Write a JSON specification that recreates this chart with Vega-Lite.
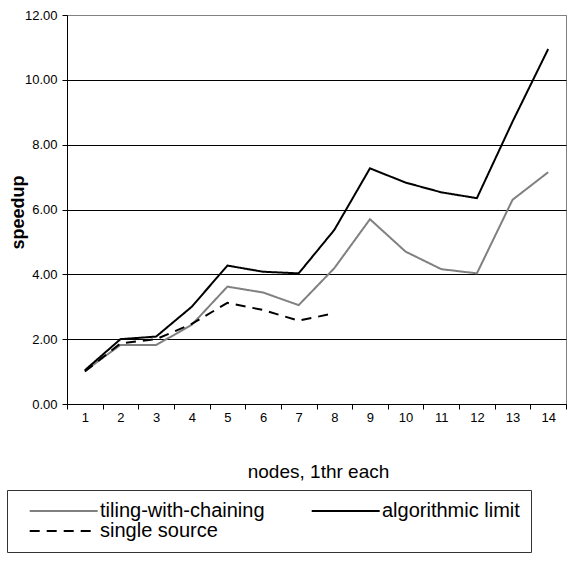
{
  "$schema": "https://vega.github.io/schema/vega-lite/v6.json",
  "width": 499,
  "height": 389,
  "autosize": {"type": "none"},
  "padding": {"left": 67, "top": 15, "right": 5, "bottom": 167},
  "background": "white",
  "config": {
    "font": "Liberation Sans",
    "view": {"stroke": "#808080", "strokeWidth": 1}
  },
  "data": {
    "values": [
      {"nodes": 1, "series": "tiling-with-chaining", "speedup": 1.02},
      {"nodes": 2, "series": "tiling-with-chaining", "speedup": 1.82},
      {"nodes": 3, "series": "tiling-with-chaining", "speedup": 1.82},
      {"nodes": 4, "series": "tiling-with-chaining", "speedup": 2.44},
      {"nodes": 5, "series": "tiling-with-chaining", "speedup": 3.62},
      {"nodes": 6, "series": "tiling-with-chaining", "speedup": 3.44},
      {"nodes": 7, "series": "tiling-with-chaining", "speedup": 3.05},
      {"nodes": 8, "series": "tiling-with-chaining", "speedup": 4.19},
      {"nodes": 9, "series": "tiling-with-chaining", "speedup": 5.70},
      {"nodes": 10, "series": "tiling-with-chaining", "speedup": 4.70},
      {"nodes": 11, "series": "tiling-with-chaining", "speedup": 4.16},
      {"nodes": 12, "series": "tiling-with-chaining", "speedup": 4.03},
      {"nodes": 13, "series": "tiling-with-chaining", "speedup": 6.30},
      {"nodes": 14, "series": "tiling-with-chaining", "speedup": 7.15},
      {"nodes": 1, "series": "algorithmic limit", "speedup": 1.04},
      {"nodes": 2, "series": "algorithmic limit", "speedup": 2.0},
      {"nodes": 3, "series": "algorithmic limit", "speedup": 2.08},
      {"nodes": 4, "series": "algorithmic limit", "speedup": 3.0},
      {"nodes": 5, "series": "algorithmic limit", "speedup": 4.27},
      {"nodes": 6, "series": "algorithmic limit", "speedup": 4.08},
      {"nodes": 7, "series": "algorithmic limit", "speedup": 4.03},
      {"nodes": 8, "series": "algorithmic limit", "speedup": 5.37},
      {"nodes": 9, "series": "algorithmic limit", "speedup": 7.27},
      {"nodes": 10, "series": "algorithmic limit", "speedup": 6.83},
      {"nodes": 11, "series": "algorithmic limit", "speedup": 6.53},
      {"nodes": 12, "series": "algorithmic limit", "speedup": 6.35},
      {"nodes": 13, "series": "algorithmic limit", "speedup": 8.71},
      {"nodes": 14, "series": "algorithmic limit", "speedup": 10.95},
      {"nodes": 1, "series": "single source", "speedup": 1.0},
      {"nodes": 2, "series": "single source", "speedup": 1.87},
      {"nodes": 3, "series": "single source", "speedup": 2.0},
      {"nodes": 4, "series": "single source", "speedup": 2.47},
      {"nodes": 5, "series": "single source", "speedup": 3.12},
      {"nodes": 6, "series": "single source", "speedup": 2.9},
      {"nodes": 7, "series": "single source", "speedup": 2.57},
      {"nodes": 8, "series": "single source", "speedup": 2.8}
    ]
  },
  "mark": {"type": "line", "strokeWidth": 2},
  "encoding": {
    "x": {
      "field": "nodes",
      "type": "ordinal",
      "scale": {"type": "band", "paddingInner": 0, "paddingOuter": 0},
      "axis": {
        "title": "nodes, 1thr each",
        "titleFontSize": 19,
        "titleFontWeight": "normal",
        "titleColor": "black",
        "titleX": 251,
        "titleY": 73,
        "titleBaseline": "alphabetic",
        "titleAlign": "center",
        "labelAngle": 0,
        "labelFontSize": 13,
        "labelColor": "black",
        "labelPadding": 2,
        "tickBand": "extent",
        "tickSize": 5,
        "tickColor": "black",
        "domainColor": "black",
        "grid": false
      }
    },
    "y": {
      "field": "speedup",
      "type": "quantitative",
      "scale": {"domain": [0, 12], "nice": false},
      "axis": {
        "title": "speedup",
        "titleFontSize": 18,
        "titleFontWeight": "bold",
        "titleColor": "black",
        "titleX": -44,
        "titleY": 197,
        "titleAngle": -90,
        "titleBaseline": "alphabetic",
        "titleAlign": "center",
        "values": [0, 2, 4, 6, 8, 10, 12],
        "format": ".2f",
        "labelFontSize": 13,
        "labelColor": "black",
        "labelPadding": 5,
        "tickSize": 5,
        "tickColor": "black",
        "domainColor": "black",
        "grid": true,
        "gridColor": {"condition": {"test": "datum.value >= 12", "value": "#808080"}, "value": "black"},
        "gridWidth": 1
      }
    },
    "color": {
      "field": "series",
      "type": "nominal",
      "scale": {
        "domain": ["tiling-with-chaining", "algorithmic limit", "single source"],
        "range": ["#808080", "#000000", "#000000"]
      },
      "legend": {
        "orient": "none",
        "legendX": -60,
        "legendY": 475,
        "columns": 2,
        "direction": "horizontal",
        "title": null,
        "symbolType": "M0.2,0H8.2",
        "symbolSize": 289,
        "symbolStrokeWidth": 2,
        "labelFontSize": 20,
        "labelColor": "black",
        "labelOffset": 62,
        "labelLimit": 400,
        "padding": 11,
        "rowPadding": 0,
        "columnPadding": 35,
        "strokeColor": "#333333",
        "fillColor": "white"
      }
    },
    "strokeDash": {
      "field": "series",
      "type": "nominal",
      "scale": {
        "domain": ["tiling-with-chaining", "algorithmic limit", "single source"],
        "range": [[1, 0], [1, 0], [10, 7]]
      }
    }
  }
}
